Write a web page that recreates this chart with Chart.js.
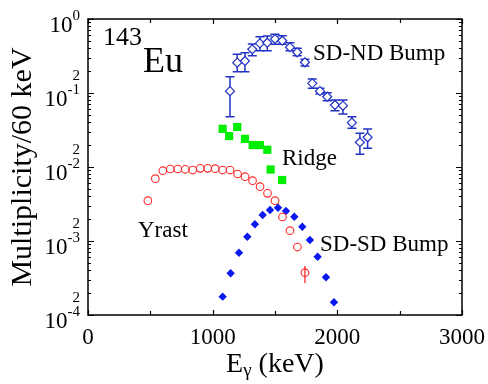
<!DOCTYPE html>
<html>
<head>
<meta charset="utf-8">
<script src="https://cdn.jsdelivr.net/npm/chart.js@4/dist/chart.umd.min.js"></script>
<style>
  html, body { margin: 0; padding: 0; background: #fff; }
  #wrap { width: 488px; height: 384px; }
</style>
</head>
<body>
<div id="wrap"><canvas id="c" width="488" height="384"></canvas></div>
<script>
// Gamma-ray energies (keV) and multiplicities per 60 keV bin
const sdndEnergy = [1139, 1197, 1259, 1318, 1379, 1438, 1500, 1558, 1620, 1678, 1740, 1799, 1861, 1919, 1981, 2045, 2117, 2181, 2243];
const sdndMult   = [0.106, 0.257, 0.271, 0.390, 0.469, 0.478, 0.537, 0.509, 0.415, 0.355, 0.260, 0.135, 0.106, 0.0891, 0.0689, 0.0674, 0.0397, 0.0216, 0.0252];
const sdndLow    = [0.0479, 0.194, 0.194, 0.319, 0.373, 0.373, 0.455, 0.455, 0.373, 0.319, 0.232, 0.116, 0.0969, 0.0787, 0.0577, 0.0520, 0.0333, 0.0149, 0.0179];
const sdndHigh   = [0.166, 0.333, 0.350, 0.459, 0.577, 0.589, 0.621, 0.595, 0.478, 0.402, 0.285, 0.155, 0.116, 0.101, 0.0804, 0.0804, 0.0479, 0.0285, 0.0327];

const ridgeEnergy = [1080, 1132, 1197, 1259, 1321, 1379, 1438, 1465, 1557];
const ridgeMult   = [0.0328, 0.0262, 0.0347, 0.0240, 0.0198, 0.0198, 0.0171, 0.00925, 0.00667];

const yrastEnergy = [480, 540, 600, 660, 720, 780, 840, 900, 960, 1020, 1080, 1140, 1200, 1260, 1320, 1380, 1440, 1500, 1560, 1620, 1680, 1740];
const yrastMult   = [0.00351, 0.00695, 0.00891, 0.00940, 0.00940, 0.00931, 0.00910, 0.00960, 0.00960, 0.00949, 0.00910, 0.00910, 0.00804, 0.00739, 0.00653, 0.00542, 0.00441, 0.00351, 0.00211, 0.00138, 0.000829, 0.000373];
const yrastLow    = [null, null, null, null, null, null, null, null, null, null, null, null, null, null, null, null, null, null, null, null, null, 0.000271];
const yrastHigh   = [null, null, null, null, null, null, null, null, null, null, null, null, null, null, null, null, null, null, null, null, null, 0.000459];

const sdsdEnergy = [1080, 1144, 1211, 1278, 1339, 1401, 1460, 1524, 1588, 1655, 1719, 1780, 1842, 1909, 1973];
const sdsdMult   = [0.000177, 0.000366, 0.000695, 0.001143, 0.001682, 0.002247, 0.002624, 0.002818, 0.002544, 0.002130, 0.001560, 0.001032, 0.000614, 0.000323, 0.000149];

// Axis ticks and labels
const xMajorTicks = [0, 1000, 2000, 3000];
const xTickLabels = ['0', '1000', '2000', '3000'];
const xMinorTicks = [500, 1500, 2500];
const yDecades = [1e-4, 1e-3, 1e-2, 1e-1, 1];
const yDecadeExponents = ['-4', '-3', '-2', '-1', '0'];

const SERIF = '"Liberation Serif", "DejaVu Serif", serif';

const pts = (xs, ys) => xs.map((x, i) => ({ x, y: ys[i] }));

// Vertical error bars, drawn underneath the markers
const errorBars = {
  id: 'errorBars',
  beforeDatasetsDraw(chart) {
    const { ctx, scales: { x, y } } = chart;
    chart.data.datasets.forEach((ds, di) => {
      if (!ds.errLow || chart.getDatasetMeta(di).hidden) return;
      ctx.save();
      ctx.strokeStyle = ds.borderColor;
      ctx.lineWidth = ds.errWidth || 1.4;
      ds.data.forEach((p, i) => {
        const lo = ds.errLow[i], hi = ds.errHigh[i];
        if (lo == null || hi == null) return;
        const px = x.getPixelForValue(p.x);
        const y1 = y.getPixelForValue(lo), y2 = y.getPixelForValue(hi);
        ctx.beginPath();
        ctx.moveTo(px, y1); ctx.lineTo(px, y2);
        if (ds.capHalf) {
          ctx.moveTo(px - ds.capHalf, y1); ctx.lineTo(px + ds.capHalf, y1);
          ctx.moveTo(px - ds.capHalf, y2); ctx.lineTo(px + ds.capHalf, y2);
        }
        ctx.stroke();
      });
      ctx.restore();
    });
  }
};

// Boxed frame with inward ticks on all four sides, tick labels and titles
const frame = {
  id: 'frame',
  afterDraw(chart) {
    const { ctx, chartArea: a, scales: { x, y } } = chart;
    ctx.save();
    ctx.strokeStyle = '#000';
    ctx.fillStyle = '#000';
    ctx.lineWidth = 1.5;
    ctx.strokeRect(a.left, a.top, a.right - a.left, a.bottom - a.top);

    ctx.lineWidth = 1.2;
    const vTick = (v, len) => {
      const px = Math.round(x.getPixelForValue(v)) + 0.5;
      ctx.beginPath();
      ctx.moveTo(px, a.bottom); ctx.lineTo(px, a.bottom - len);
      ctx.moveTo(px, a.top); ctx.lineTo(px, a.top + len);
      ctx.stroke();
    };
    xMajorTicks.forEach(v => vTick(v, 5));
    xMinorTicks.forEach(v => vTick(v, 4));

    const hTick = (v, len) => {
      const py = Math.round(y.getPixelForValue(v)) + 0.5;
      ctx.beginPath();
      ctx.moveTo(a.left, py); ctx.lineTo(a.left + len, py);
      ctx.moveTo(a.right, py); ctx.lineTo(a.right - len, py);
      ctx.stroke();
    };
    yDecades.forEach((d, i) => {
      hTick(d, 6);
      if (i < yDecades.length - 1) {
        for (let m = 2; m <= 9; m++) hTick(d * m, 3);
      }
    });

    // x tick labels
    ctx.font = '23px ' + SERIF;
    ctx.textAlign = 'center';
    ctx.textBaseline = 'alphabetic';
    xMajorTicks.forEach((v, i) => {
      ctx.fillText(xTickLabels[i], x.getPixelForValue(v), a.bottom + 29);
    });

    // y tick labels: 10^n at decades, "2" at 2x10^n
    const right = a.left - 8;
    yDecades.forEach((d, i) => {
      const py = y.getPixelForValue(d);
      const exp = yDecadeExponents[i];
      ctx.font = '15px ' + SERIF;
      const w2 = ctx.measureText(exp).width;
      ctx.font = '23px ' + SERIF;
      const w1 = ctx.measureText('10').width;
      ctx.textAlign = 'left';
      ctx.fillText('10', right - w2 - w1, py + 12.5);
      ctx.font = '15px ' + SERIF;
      ctx.fillText(exp, right - w2, py + 1);
      if (i < yDecades.length - 1) {
        const p2 = y.getPixelForValue(d * 2);
        ctx.textAlign = 'right';
        ctx.fillText('2', right, p2 + 9);
      }
    });

    // x axis title: E_gamma (keV)
    const cx = (a.left + a.right) / 2;
    ctx.textAlign = 'left';
    ctx.font = '28px ' + SERIF;
    const wE = ctx.measureText('E').width;
    const wK = ctx.measureText(' (keV)').width;
    ctx.font = '19px ' + SERIF;
    const wG = ctx.measureText('γ').width;
    let tx = cx - (wE + wG + wK) / 2;
    const base = a.bottom + 57;
    ctx.font = '28px ' + SERIF;
    ctx.fillText('E', tx, base);
    ctx.font = '19px ' + SERIF;
    ctx.fillText('γ', tx + wE, base + 4);
    ctx.font = '28px ' + SERIF;
    ctx.fillText(' (keV)', tx + wE + wG, base);

    // y axis title
    ctx.save();
    ctx.translate(31, (a.top + a.bottom) / 2);
    ctx.rotate(-Math.PI / 2);
    ctx.textAlign = 'center';
    ctx.font = '30px ' + SERIF;
    ctx.fillText('Multiplicity/60 keV', 0, 0);
    ctx.restore();

    // nucleus label
    ctx.textAlign = 'left';
    ctx.font = '26px ' + SERIF;
    ctx.fillText('143', 103, 45);
    ctx.font = '36px ' + SERIF;
    ctx.fillText('Eu', 143, 72);

    // component labels
    ctx.font = '23px ' + SERIF;
    ctx.fillText('SD-ND Bump', 313, 60);
    ctx.fillText('Ridge', 282, 165);
    ctx.fillText('Yrast', 138, 237);
    ctx.fillText('SD-SD Bump', 320, 251);
    ctx.restore();
  }
};

new Chart(document.getElementById('c'), {
  type: 'scatter',
  data: {
    datasets: [
      {
        label: 'SD-ND Bump',
        data: pts(sdndEnergy, sdndMult),
        errLow: sdndLow, errHigh: sdndHigh, capHalf: 4.5, errWidth: 1.5,
        pointStyle: 'rectRot', radius: 4.5, borderWidth: 1.2,
        borderColor: '#2232c4', backgroundColor: '#ffffff'
      },
      {
        label: 'Ridge',
        data: pts(ridgeEnergy, ridgeMult),
        pointStyle: 'rect', radius: 5.8, borderWidth: 0,
        borderColor: '#00ee00', backgroundColor: '#00ee00'
      },
      {
        label: 'Yrast',
        data: pts(yrastEnergy, yrastMult),
        errLow: yrastLow, errHigh: yrastHigh, capHalf: 0, errWidth: 1.3,
        pointStyle: 'circle', radius: 3.8, borderWidth: 1.1,
        borderColor: '#ff2a2a', backgroundColor: 'rgba(255,255,255,0)'
      },
      {
        label: 'SD-SD Bump',
        data: pts(sdsdEnergy, sdsdMult),
        pointStyle: 'rectRot', radius: 4.2, borderWidth: 0,
        borderColor: '#0a18f0', backgroundColor: '#0a18f0'
      }
    ]
  },
  options: {
    responsive: false,
    animation: false,
    events: [],
    layout: { padding: { left: 88, right: 26, top: 19, bottom: 69 } },
    plugins: { legend: { display: false }, tooltip: { enabled: false } },
    scales: {
      x: { type: 'linear', min: 0, max: 3000, display: false },
      y: { type: 'logarithmic', min: 1e-4, max: 1, display: false }
    }
  },
  plugins: [errorBars, frame]
});
</script>
</body>
</html>
